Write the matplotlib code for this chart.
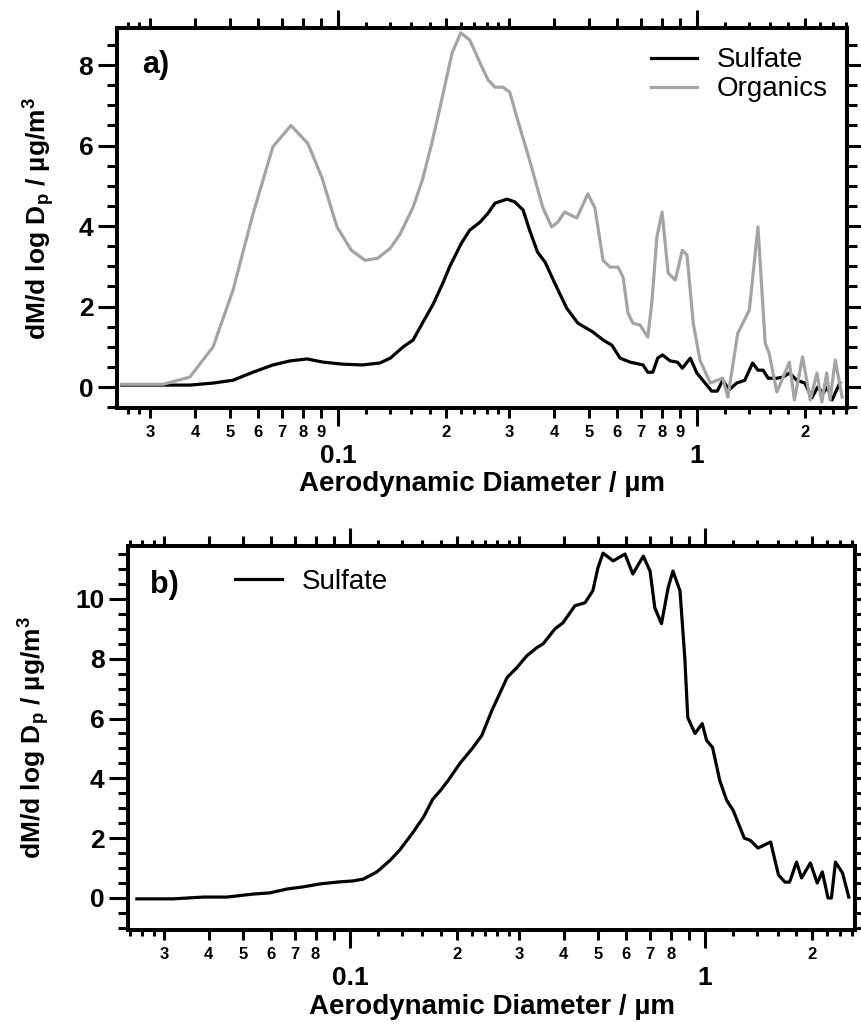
import numpy as np
import matplotlib.pyplot as plt
from matplotlib.ticker import NullLocator

plt.rcParams['font.family'] = ['Liberation Sans', 'DejaVu Sans']
plt.rcParams['mathtext.fontset'] = 'custom'
plt.rcParams['mathtext.rm'] = 'Liberation Sans:bold'
plt.rcParams['mathtext.it'] = 'Liberation Sans:bold'
plt.rcParams['mathtext.bf'] = 'Liberation Sans:bold'

# Panel a) - sulfate and organics size distributions
a_sulfate_d = [0.025, 0.0326, 0.0387, 0.0449, 0.051, 0.058, 0.0659, 0.0735, 0.082, 0.091,
               0.103, 0.117, 0.131, 0.140, 0.152, 0.162, 0.172, 0.184, 0.196, 0.205,
               0.221, 0.233, 0.249, 0.262, 0.274, 0.296, 0.311, 0.328, 0.342, 0.360,
               0.378, 0.402, 0.434, 0.466, 0.513, 0.548, 0.580, 0.611, 0.652, 0.708,
               0.730, 0.754, 0.778, 0.802, 0.843, 0.883, 0.911, 0.959, 1.0, 1.05,
               1.10, 1.14, 1.18, 1.23, 1.29, 1.36, 1.43, 1.48, 1.53, 1.58,
               1.67, 1.74, 1.81, 1.90, 2.0, 2.09, 2.17, 2.25, 2.31, 2.38, 2.50]
a_sulfate = [0.05, 0.05, 0.05, 0.1, 0.17, 0.37, 0.55, 0.65, 0.7, 0.62,
             0.57, 0.55, 0.6, 0.72, 1.0, 1.17, 1.59, 2.05, 2.58, 3.0,
             3.58, 3.9, 4.1, 4.32, 4.57, 4.67, 4.6, 4.4, 3.9, 3.35,
             3.1, 2.58, 1.96, 1.59, 1.37, 1.17, 1.04, 0.72, 0.62, 0.55,
             0.37, 0.37, 0.72, 0.8, 0.65, 0.62, 0.47, 0.72, 0.35, 0.12,
             -0.1, -0.1, 0.17, -0.07, 0.1, 0.17, 0.6, 0.42, 0.42, 0.22,
             0.22, 0.25, 0.35, 0.17, 0.1, -0.27, 0.0, -0.15, 0.0, -0.32, 0.1]

a_org_d = [0.025, 0.0326, 0.0387, 0.0449, 0.051, 0.058, 0.0659, 0.074, 0.0825, 0.0903,
           0.0994, 0.109, 0.119, 0.129, 0.140, 0.149, 0.162, 0.172, 0.182, 0.192,
           0.208, 0.220, 0.233, 0.249, 0.262, 0.274, 0.288, 0.301, 0.321, 0.342,
           0.372, 0.394, 0.410, 0.428, 0.463, 0.497, 0.520, 0.548, 0.573, 0.603,
           0.623, 0.643, 0.663, 0.695, 0.730, 0.749, 0.774, 0.800, 0.832, 0.871,
           0.911, 0.939, 0.977, 1.02, 1.09, 1.18, 1.22, 1.30, 1.40, 1.48,
           1.55, 1.59, 1.67, 1.74, 1.81, 1.87, 1.97, 2.07, 2.16, 2.23,
           2.30, 2.35, 2.43, 2.54]
a_org = [0.07, 0.07, 0.25, 1.0, 2.4, 4.3, 5.97, 6.5, 6.05, 5.2,
         3.98, 3.4, 3.15, 3.2, 3.45, 3.8, 4.47, 5.15, 6.0, 6.9,
         8.3, 8.8, 8.62, 8.05, 7.63, 7.45, 7.45, 7.33, 6.46, 5.64,
         4.47, 3.98, 4.1, 4.35, 4.2, 4.8, 4.45, 3.15, 2.98, 2.98,
         2.73, 1.84, 1.59, 1.54, 1.24, 2.09, 3.73, 4.35, 2.83, 2.66,
         3.4, 3.28, 1.59, 0.67, 0.1, 0.22, -0.25, 1.34, 1.91, 3.98,
         1.09, 0.84, -0.12, 0.25, 0.62, -0.32, 0.75, -0.32, 0.35, -0.37,
         0.35, -0.32, 0.67, -0.25]

# Panel b) - sulfate size distribution
b_sulfate_d = [0.0251, 0.0317, 0.0386, 0.045, 0.0533, 0.0595, 0.0665, 0.0737, 0.0823, 0.0919,
               0.102, 0.109, 0.119, 0.130, 0.138, 0.150, 0.161, 0.171, 0.180, 0.189,
               0.204, 0.221, 0.235, 0.251, 0.277, 0.295, 0.315, 0.336, 0.350, 0.378,
               0.398, 0.430, 0.459, 0.483, 0.499, 0.516, 0.551, 0.595, 0.626, 0.670,
               0.700, 0.722, 0.754, 0.787, 0.812, 0.850, 0.877, 0.894, 0.937, 0.982,
               1.01, 1.05, 1.10, 1.15, 1.20, 1.29, 1.34, 1.41, 1.53, 1.61,
               1.68, 1.73, 1.81, 1.87, 1.98, 2.07, 2.14, 2.22, 2.27, 2.33,
               2.44, 2.54]
b_sulfate = [-0.03, -0.03, 0.03, 0.03, 0.13, 0.17, 0.3, 0.37, 0.47, 0.53,
             0.57, 0.63, 0.87, 1.27, 1.6, 2.17, 2.7, 3.3, 3.6, 3.93,
             4.5, 5.0, 5.43, 6.27, 7.37, 7.7, 8.1, 8.37, 8.5, 9.0,
             9.2, 9.77, 9.87, 10.27, 11.03, 11.53, 11.27, 11.5, 10.83, 11.43,
             10.93, 9.7, 9.17, 10.37, 10.93, 10.27, 8.03, 6.03, 5.5, 5.83,
             5.27, 5.03, 3.93, 3.27, 2.93, 2.0, 1.93, 1.67, 1.87, 0.77,
             0.53, 0.53, 1.2, 0.67, 1.17, 0.5, 0.87, 0.0, 0.0, 1.2,
             0.83, 0.03]

decades = [0.01, 0.1, 1.0]
minor_pos = [m * d for d in decades for m in range(2, 10)]
sub_pos = [m * d for d in decades for m in (1.2, 1.4, 1.6, 1.8, 2.2, 2.4, 2.6, 2.8)]

a_minor_labels = ['', '3', '4', '5', '6', '7', '8', '9',
                  '2', '3', '4', '5', '6', '7', '8', '9',
                  '2', '', '', '', '', '', '', '']
b_minor_labels = ['', '3', '4', '5', '6', '7', '8', '',
                  '2', '3', '4', '5', '6', '7', '8', '',
                  '2', '', '', '', '', '', '', '']

gray = '#a4a4a4'
frame_lw = 2.9
tick_w = 2.2


def style(ax, xlim, ylim, yticks, minor_labels):
    ax.set_xscale('log')
    for s in ax.spines.values():
        s.set_linewidth(frame_lw)
    ax.set_xticks([0.1, 1.0], labels=['0.1', '1'])
    ax.set_xticks(minor_pos, labels=minor_labels, minor=True)
    ax.set_yticks(yticks)
    ax.set_yticks(np.arange(-1.0, ylim[1], 0.5), minor=True)
    ax.tick_params(which='both', direction='out', top=True, right=True, width=tick_w)
    ax.tick_params(axis='x', which='major', length=13, pad=13, labelsize=19)
    ax.tick_params(axis='x', which='minor', length=7, pad=5, labelsize=12)
    ax.tick_params(axis='y', which='major', length=14, pad=3, labelsize=19)
    ax.tick_params(axis='y', which='minor', length=7)
    for lab in ax.get_xticklabels(which='both') + ax.get_yticklabels():
        lab.set_fontweight('bold')
    # extra short ticks between 1-3 of each decade
    for loc in ('bottom', 'top'):
        sec = ax.secondary_xaxis(loc)
        sec.set_xticks(sub_pos)
        sec.xaxis.set_minor_locator(NullLocator())
        sec.tick_params(direction='out', length=4.5, width=tick_w,
                        labelbottom=False, labeltop=False)
        for s in sec.spines.values():
            s.set_visible(False)
    ax.set_xlim(*xlim)
    ax.set_ylim(*ylim)


ylabel = 'dM/d log D$_\\mathrm{p}$ / µg/m$^\\mathrm{3}$'
xlabel = 'Aerodynamic Diameter / µm'

fig = plt.figure(figsize=(8.62, 10.26), dpi=100)
ax1 = fig.add_axes([0.1357, 0.6023, 0.8469, 0.3704])
ax2 = fig.add_axes([0.1485, 0.0936, 0.8434, 0.3743])

ax1.plot(a_sulfate_d, a_sulfate, color='black', lw=2.3, label='Sulfate')
ax1.plot(a_org_d, a_org, color=gray, lw=2.3, label='Organics')
style(ax1, (0.02424, 2.62), (-0.52, 8.92), [0, 2, 4, 6, 8], a_minor_labels)
ax1.legend(loc='upper right', frameon=False, fontsize=20, handlelength=1.65,
           handletextpad=0.7, labelspacing=0.1, borderaxespad=0.3)
ax1.text(0.034, 0.903, 'a)', transform=ax1.transAxes, fontsize=22,
         fontweight='bold', va='center')
ax1.set_ylabel(ylabel, fontsize=19, fontweight='bold')
ax1.yaxis.set_label_coords(-0.082, 0.5)
ax1.set_xlabel(xlabel, fontsize=20, fontweight='bold')
ax1.xaxis.set_label_coords(0.5, -0.165)

ax2.plot(b_sulfate_d, b_sulfate, color='black', lw=2.3, label='Sulfate')
style(ax2, (0.0237, 2.645), (-1.07, 11.77), [0, 2, 4, 6, 8, 10], b_minor_labels)
ax2.legend(loc='upper left', bbox_to_anchor=(0.132, 0.97), frameon=False,
           fontsize=20, handlelength=1.7, handletextpad=0.7, borderaxespad=0)
ax2.text(0.030, 0.898, 'b)', transform=ax2.transAxes, fontsize=22,
         fontweight='bold', va='center')
ax2.set_ylabel(ylabel, fontsize=19, fontweight='bold')
ax2.yaxis.set_label_coords(-0.104, 0.5)
ax2.set_xlabel(xlabel, fontsize=20, fontweight='bold')
ax2.xaxis.set_label_coords(0.5, -0.168)

fig.savefig('out.png', dpi=100)
